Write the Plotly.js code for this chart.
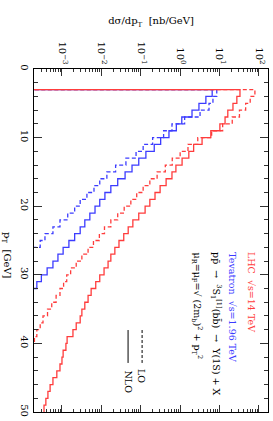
<!DOCTYPE html>
<html><head><meta charset="utf-8">
<script src="https://cdn.plot.ly/plotly-3.0.1.min.js"></script>
<style>html,body{margin:0;padding:0;background:#fff}#c{width:273px;height:421px}</style>
</head><body><div id="c"></div>
<script>
// bin edges in pT [GeV]
const ptEdges = [3,4,5,6,7,8,9,10,11,12,13,14,15,16,17,18,19,20,21,22,23,24,25,26,27,28,29,30,31,32,33,34,35,36,37,38,39,40,41,42,43,44,45,46,47,48,49,50];
// dsigma/dpT [nb/GeV] per bin
const lhcNLO = [33, 27.5, 21.9, 16.2, 13.8, 10.2, 6.0, 3.6, 2.2, 1.66, 1.12, 0.78, 0.62, 0.44, 0.31, 0.23, 0.17, 0.129, 0.089, 0.063, 0.048, 0.037, 0.028, 0.022, 0.0174, 0.0148, 0.0117, 0.0091, 0.0072, 0.0055, 0.0046, 0.0038, 0.0032, 0.0029, 0.0023, 0.0019, 0.00135, 0.00126, 0.00107, 0.0010, 0.00089, 0.00074, 0.00059, 0.0005, 0.00044, 0.00039, 0.00035];
const lhcLO = [79, 60, 46, 32, 21, 12, 6.3, 2.8, 1.58, 1.0, 0.63, 0.42, 0.26, 0.17, 0.115, 0.079, 0.056, 0.038, 0.026, 0.0174, 0.012, 0.0089, 0.0063, 0.0046, 0.0032, 0.0023, 0.00166, 0.00132, 0.0011, 0.00089, 0.00071, 0.00055, 0.00043, 0.00033, 0.00028, 0.00023, 0.0002];
const tevNLO = [6.5, 4.5, 3.0, 2.0, 1.1, 0.8, 0.52, 0.32, 0.22, 0.135, 0.089, 0.06, 0.04, 0.026, 0.0174, 0.0123, 0.0091, 0.0069, 0.0051, 0.0038, 0.0029, 0.0021, 0.0015, 0.00107, 0.00079, 0.00059, 0.00042, 0.0003, 0.00023];
const tevLO = [8.5, 6.8, 5.4, 3.2, 1.3, 0.62, 0.38, 0.2, 0.115, 0.076, 0.042, 0.023, 0.0138, 0.0091, 0.0065, 0.0043, 0.0029, 0.0021, 0.0014, 0.00089, 0.00059, 0.00037, 0.00028];
// axis ticks
const xTickVals = [1e-3, 1e-2, 1e-1, 1, 10, 100];
const xTickText = ['10<sup>−3</sup>','10<sup>−2</sup>','10<sup>−1</sup>','10<sup>0</sup>','10<sup>1</sup>','10<sup>2</sup>'];
const yTickVals = [0, 10, 20, 30, 40, 50];

const RED = 'rgb(255,60,60)', BLUE = 'rgb(60,60,255)';
const BASE = 1e-6;
function steps(vals){
  const x=[BASE], y=[ptEdges[0]];
  vals.forEach((v,i)=>{x.push(v); y.push(ptEdges[i+1]);});
  if (vals.length < ptEdges.length-1){ x.push(BASE); y.push(ptEdges[vals.length]); }
  return {x,y};
}
function tr(vals,color,dash){
  const s=steps(vals);
  return {type:'scatter',mode:'lines',x:s.x,y:s.y,line:{shape:'hv',color:color,width:1.3,dash:dash},hoverinfo:'skip',showlegend:false};
}
const data=[tr(tevLO,BLUE,'4px,2.5px'),tr(tevNLO,BLUE,'solid'),tr(lhcLO,RED,'4px,2.5px'),tr(lhcNLO,RED,'solid')];

const F = 'DejaVu Serif, serif';
const ann=(x,y,text,color,size)=>({xref:'paper',yref:'paper',x:x,y:y,text:text,showarrow:false,textangle:90,xanchor:'center',yanchor:'top',font:{family:F,size:size||9.5,color:color||'black'}});
const layout={
  width:273,height:421,margin:{l:34,r:5,t:69,b:9},
  paper_bgcolor:'white',plot_bgcolor:'white',
  font:{family:F,size:10,color:'black'},
  xaxis:{type:'log',side:'top',range:[-3.71,2.23],tickmode:'array',tickvals:xTickVals,ticktext:xTickText,tickangle:90,
    ticks:'inside',ticklen:7,tickwidth:1,tickcolor:'#333',showline:true,linecolor:'black',linewidth:1,mirror:'ticks',
    showgrid:false,zeroline:false,tickfont:{family:F,size:10},
    minor:{ticks:'inside',ticklen:3,tickcolor:'#333',dtick:'D1',showgrid:false},
    title:{text:'dσ/dp<sub>T</sub>  [nb/GeV]',standoff:14,font:{family:F,size:10}}},
  yaxis:{range:[50,0],tickmode:'array',tickvals:yTickVals,tickangle:90,ticks:'inside',ticklen:8,tickwidth:1,tickcolor:'#333',
    showline:true,linecolor:'black',linewidth:1,mirror:'ticks',showgrid:false,zeroline:false,tickfont:{family:F,size:10},
    minor:{ticks:'inside',ticklen:4,tickcolor:'#333',dtick:2,tick0:0,showgrid:false}},
  annotations:[
    ann(0.932,0.472,'LHC  √s=14 TeV',RED),
    ann(0.850,0.472,'Tevatron  √s=1.96 TeV',BLUE),
    ann(0.780,0.472,'pp̄  →  <sup>3</sup>S<sub>1</sub><sup>[1]</sup>(bb̄)  →  Υ(1S) + X','black'),
    ann(0.697,0.472,'μ<sub>R</sub>=μ<sub>F</sub>=√ (2m<sub>b</sub>)<sup>2</sup> + p<sub>T</sub><sup>2</sup>','black'),
    ann(0.462,0.131,'LO','black'),
    ann(0.402,0.128,'NLO','black'),
    {xref:'paper',yref:'paper',x:-0.115,y:0.53,text:'p<sub>T</sub>  [GeV]',showarrow:false,textangle:90,xanchor:'center',yanchor:'top',font:{family:F,size:10}}
  ],
  shapes:[
    {type:'line',xref:'paper',yref:'paper',x0:0.462,x1:0.462,y0:0.239,y1:0.143,line:{color:'black',width:1,dash:'3px,2px'}},
    {type:'line',xref:'paper',yref:'paper',x0:0.402,x1:0.402,y0:0.239,y1:0.143,line:{color:'black',width:1}}
  ]
};
Plotly.newPlot('c',data,layout,{staticPlot:true,displayModeBar:false});
</script></body></html>
